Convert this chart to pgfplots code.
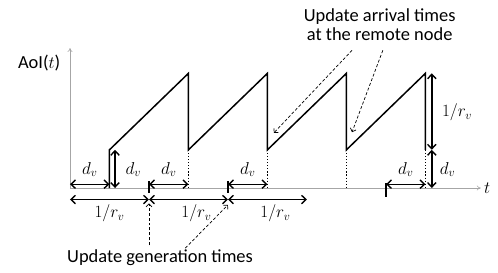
\documentclass[border=0pt]{standalone}
\usepackage{fontspec}
\setmainfont{Carlito}
\usepackage{pgfplots}
\pgfplotsset{compat=1.18}
\usetikzlibrary{arrows.meta}
\begin{document}
\begin{tikzpicture}[
  dbl/.style={line width=1.4pt, {Straight Barb[length=4.5pt,width=8.5pt]}-{Straight Barb[length=4.5pt,width=8.5pt]}},
  dsh/.style={line width=0.7pt, dashed, dash pattern=on 3pt off 2pt, -{Straight Barb[length=3pt,width=6pt]}},
  lab/.style={font=\fontsize{18.5}{19}\selectfont, inner sep=0pt},
]
\begin{axis}[
  scale only axis, width=410.8bp, height=140bp,
  xmin=0, xmax=5.2, ymin=0, ymax=1.83,
  axis lines=left,
  axis line style={gray!70, line width=0.6pt, -{To[length=4pt,width=5pt]}},
  ticks=none, clip=false,
]
\path (axis cs:-0.886,-1.098) rectangle (axis cs:5.418,2.458);
% sawtooth AoI
\addplot[black, line width=1.5pt] coordinates {
 (0.5,0) (0.5,0.5) (1.5,1.5) (1.5,0.5) (2.5,1.5) (2.5,0.5) (3.5,1.5) (3.5,0.5) (4.5,1.5) (4.5,0.5)
};
% dotted drops
\addplot[black, line width=1.1pt, dotted] coordinates {(1.5,0.5) (1.5,0)};
\addplot[black, line width=1.1pt, dotted] coordinates {(2.5,0.5) (2.5,0)};
\addplot[black, line width=1.1pt, dotted] coordinates {(3.5,0.5) (3.5,0)};
\addplot[black, line width=1.1pt, dotted] coordinates {(4.5,0.5) (4.5,0)};
% generation ticks
\draw[line width=1.4pt] (axis cs:1,0.09) -- (axis cs:1,-0.07);
\draw[line width=1.4pt] (axis cs:2,0.09) -- (axis cs:2,-0.07);
\draw[line width=1.4pt] (axis cs:4,0.06) -- (axis cs:4,-0.12);
% d_v horizontal arrows
\draw[dbl] (axis cs:0,0.05) -- (axis cs:0.5,0.05);
\draw[dbl] (axis cs:1,0.05) -- (axis cs:1.5,0.05);
\draw[dbl] (axis cs:2,0.05) -- (axis cs:2.5,0.05);
\draw[dbl] (axis cs:4,0.05) -- (axis cs:4.5,0.05);
\node[lab] at (axis cs:0.25,0.24) {$d_v$};
\node[lab] at (axis cs:1.25,0.24) {$d_v$};
\node[lab] at (axis cs:2.25,0.24) {$d_v$};
\node[lab] at (axis cs:4.25,0.24) {$d_v$};
% vertical d_v at first arrival
\draw[dbl] (axis cs:0.57,0) -- (axis cs:0.57,0.5);
\node[lab] at (axis cs:0.8,0.24) {$d_v$};
% 1/r_v horizontal arrows
\draw[dbl] (axis cs:0,-0.15) -- (axis cs:1,-0.15);
\draw[dbl] (axis cs:1,-0.15) -- (axis cs:2,-0.15);
\draw[dbl] (axis cs:2,-0.15) -- (axis cs:3,-0.15);
\node[lab] at (axis cs:0.5,-0.33) {$1/r_v$};
\node[lab] at (axis cs:1.6,-0.33) {$1/r_v$};
\node[lab] at (axis cs:2.6,-0.33) {$1/r_v$};
% right vertical arrows
\draw[dbl] (axis cs:4.58,0.5) -- (axis cs:4.58,1.5);
\draw[dbl] (axis cs:4.58,0) -- (axis cs:4.58,0.5);
\node[lab] at (axis cs:4.9,0.99) {$1/r_v$};
\node[lab] at (axis cs:4.78,0.24) {$d_v$};
% arrival annotations
\node[lab, align=center] at (axis cs:3.92,2.13) {Update arrival times\\at the remote node};
\draw[dsh] (axis cs:3.57,1.80) -- (axis cs:2.58,0.72);
\draw[dsh] (axis cs:3.96,1.80) -- (axis cs:3.57,0.73);
% generation annotations
\node[lab] at (axis cs:1.14,-0.915) {Update generation times};
\draw[dsh] (axis cs:1.0,-0.75) -- (axis cs:1.0,-0.2);
\draw[dsh] (axis cs:1.46,-0.785) -- (axis cs:2.0,-0.22);
% axis labels
\node[lab] at (axis cs:-0.39,1.63) {AoI($t$)};
\node[lab] at (axis cs:5.28,0) {$t$};
\end{axis}
\end{tikzpicture}
\end{document}
